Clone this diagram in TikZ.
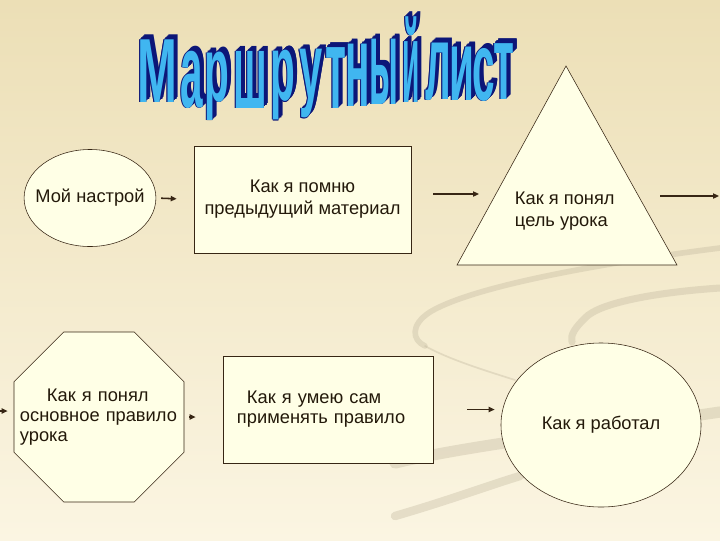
\documentclass[tikz,border=0pt]{standalone}
\usepackage{fontspec}
\usepackage{graphicx}
\setmainfont{Liberation Sans}
\usetikzlibrary{shapes.geometric,arrows.meta}
\definecolor{bgtop}{RGB}{236,223,182}
\definecolor{bgbottom}{RGB}{251,245,226}
\definecolor{boxfill}{RGB}{255,255,230}
\definecolor{inkbrown}{RGB}{55,38,20}
\definecolor{inktext}{RGB}{35,25,10}
\definecolor{swoosh}{RGB}{190,180,155}
\definecolor{titleblue}{RGB}{64,182,240}
\definecolor{titlenavy}{RGB}{12,22,120}
\begin{document}
\begin{tikzpicture}[x=0.025cm, y=-0.025cm,
    shapebox/.style={draw=inkbrown, line width=0.4pt, fill=boxfill, inner sep=0pt},
    txt/.style={font=\fontsize{13}{15.6}\selectfont, text=inktext},
    txttight/.style={font=\fontsize{13}{14.2}\selectfont, text=inktext},
    link/.style={-{Triangle[length=0.15cm,width=0.13cm]}, draw=inkbrown, line width=1.1pt},
    tface/.style={anchor=base, inner sep=0pt, text=titleblue, font=\fontsize{40}{40}\selectfont\bfseries},
    tdark/.style={tface, text=titlenavy}]
  % background
  \useasboundingbox (0,0) rectangle (720,540);
  \shade[top color=bgtop, bottom color=bgbottom] (0,0) rectangle (720,540);
  \begin{scope}[draw=swoosh, opacity=0.35, line cap=round]
    \draw[line width=4pt] (720,248) .. controls (640,258) and (480,282) .. (430,312)
      .. controls (410,325) and (412,340) .. (425,346);
    \draw[line width=1.2pt] (425,346) .. controls (450,360) and (490,372) .. (515,380);
    \draw[line width=5pt] (720,288) .. controls (660,292) and (600,302) .. (585,318)
      .. controls (575,328) and (570,335) .. (572,342);
    \draw[line width=8pt] (395,463) .. controls (470,445) and (600,430) .. (720,412);
    \draw[line width=6pt] (395,516) .. controls (450,500) and (490,485) .. (520,476);
  \end{scope}

  % title
  \foreach \ch/\cx/\by/\ys/\xs in {М/157/102/1.62/0.85, а/192/107/1.86/0.72,
      р/217/101/1.63/0.72, ш/250/108/1.92/0.72, р/283/100.5/1.66/0.72, у/311/98.5/1.66/0.74,
      т/336/108/2.05/0.76, н/358/106/2.1/0.72, ы/384/104/2.2/0.6, й/411/102/2.05/0.5,
      л/438/99/1.9/0.72, и/462/100/1.8/0.72, с/484/100/1.72/0.72, т/504/99/1.88/0.76}{
    \foreach \dx/\dy in {-0.8/0, 0/0.8, -0.6/0.6, 0.6/-0.6, 1.2/-1.2, 1.8/-1.8,
        2.4/-2.4, 3/-3, 3.6/-3.6, 4.2/-4.2}
      \node[tdark] at (\cx+\dx,\by+\dy) {\scalebox{\xs}[\ys]{\ch}};
    \node[tface] at (\cx,\by) {\scalebox{\xs}[\ys]{\ch}};
  }

  % first row
  \node[shapebox, ellipse, minimum width=3.25cm, minimum height=2.425cm, inner xsep=-0.2cm, txt] (nastroy) at (90,198) {Мой настрой};
  \node[shapebox, rectangle, minimum width=5.425cm, minimum height=2.675cm, txt, align=center] (pomnyu) at (302.5,199.5) {Как я помню\\предыдущий материал};
  \coordinate (triTop) at (566,66);
  \coordinate (triLeft) at (457,265);
  \coordinate (triRight) at (677,265);
  \draw[shapebox] (triTop) -- (triRight) -- (triLeft) -- cycle;
  \node[txt, align=left, anchor=west] (tsel) at (510,211) {Как я понял\\цель урока};

  % second row
  \node[shapebox, regular polygon, regular polygon sides=8, minimum size=4.6cm] (pravilo) at (99,417) {};
  \node[txttight, text width=3.95cm, align=left] (praviloText) at (pravilo.center) {\hspace*{0.675cm}Как я понял\\основное правило\\урока};
  \node[shapebox, rectangle, minimum width=5.25cm, minimum height=2.675cm, txttight, text width=4.55cm, align=left] (umeyu) at (328,409.5) {\hspace*{0.25cm}Как я умею сам\\применять правило};
  \node[shapebox, ellipse, minimum width=5cm, minimum height=4.1cm, txt] (rabotal) at (601,425) {Как я работал};

  % arrows
  \coordinate (tselIn) at (479,194);
  \coordinate (triOut) at (660,196);
  \coordinate (nextOut) at (719,196);
  \coordinate (pageIn) at (0,411);
  \draw[link, shorten <=0.125cm, shorten >=0.425cm] (nastroy.east) -- (pomnyu.west);
  \draw[link, shorten <=0.55cm] (pomnyu.east |- tselIn) -- (tselIn);
  \draw[link] (triOut) -- (nextOut);
  \draw[link, shorten >=0.15cm] (pageIn) -- (pageIn -| pravilo.west);
  \draw[link, shorten <=0.125cm, shorten >=0.675cm] (pravilo.east) -- (pravilo.east -| umeyu.west);
  \draw[link, shorten <=0.85cm, shorten >=0.15cm] (umeyu.east) -- (umeyu.east -| rabotal.west);
\end{tikzpicture}
\end{document}
